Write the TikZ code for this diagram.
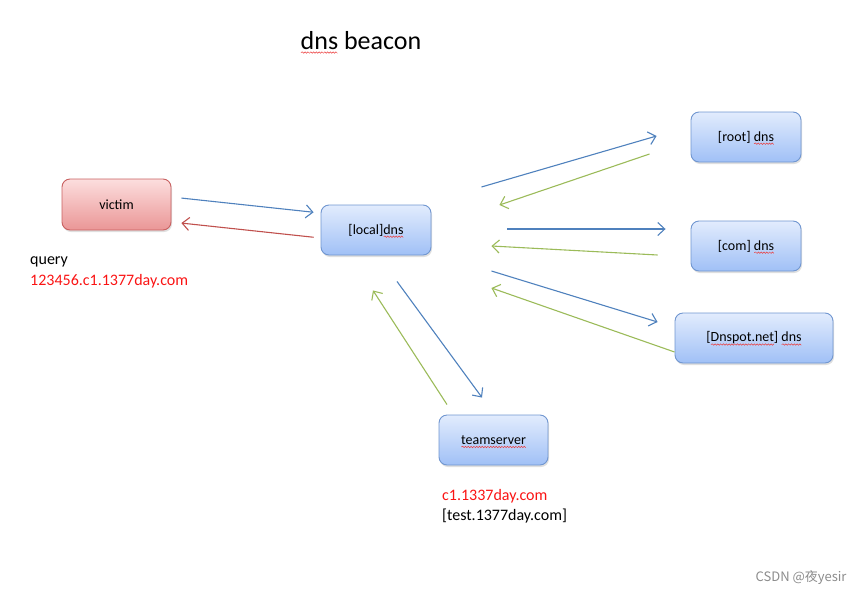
\documentclass[tikz,border=0pt]{standalone}
\usepackage{fontspec}
\setmainfont{Carlito}
\newfontfamily\cjkfont{Noto Sans CJK SC}
\usepackage{tikz}
\usetikzlibrary{arrows.meta}
\usetikzlibrary{shadows}

% red wavy underline of the spell checker (basic layer, sharp corners)
\newsavebox{\spellbox}
\newcount\spellk
\newcommand{\spell}[1]{\sbox{\spellbox}{#1}%
    \pgfmathtruncatemacro{\spelln}{\the\wd\spellbox/1.4pt}%
    \leavevmode\rlap{\smash{\begin{pgfpicture}\pgfsetbaseline{0pt}%
        \pgfsetcornersarced{\pgfpointorigin}%
        \pgfsetstrokecolor{spellred}\pgfsetlinewidth{0.5pt}%
        \pgfpathmoveto{\pgfpoint{0pt}{-2.6pt}}%
        \spellk=0
        \loop\advance\spellk by 1
            \pgfpathlineto{\pgfpoint{\the\spellk*1.4pt}{\ifodd\spellk -1.9pt\else -3.3pt\fi}}%
        \ifnum\spellk<\spelln\repeat
        \pgfusepath{stroke}%
    \end{pgfpicture}}}#1}

\begin{document}
\begin{tikzpicture}[x=1pt,y=-1pt,
        box/.style={draw=boxblue, line width=0.9pt, rounded corners=8pt,
            minimum width=110pt, minimum height=50pt,
            top color=boxtop, bottom color=boxbottom,
            font=\fontsize{14}{16}\selectfont,
            drop shadow={opacity=0.25, shadow xshift=1pt, shadow yshift=-2pt}},
        redbox/.style={box, draw=victimline, top color=victimtop, bottom color=victimbottom},
        ask/.style={draw=askblue, line width=1.1pt, -{Straight Barb[length=7pt,width=13pt]}},
        answer/.style={draw=answergreen, line width=1.1pt, -{Straight Barb[length=7pt,width=13pt]}},
        back/.style={draw=backred, line width=1.1pt, -{Straight Barb[length=7pt,width=13pt]}},
        label/.style={font=\fontsize{16}{19}\selectfont, anchor=west, inner sep=0pt}]
        \definecolor{boxblue}{RGB}{112,150,208}
        \definecolor{boxtop}{RGB}{226,236,253}
        \definecolor{boxbottom}{RGB}{160,192,246}
        \definecolor{victimline}{RGB}{200,96,96}
        \definecolor{victimtop}{RGB}{252,222,222}
        \definecolor{victimbottom}{RGB}{234,150,150}
        \definecolor{askblue}{RGB}{79,129,189}
        \definecolor{answergreen}{RGB}{155,187,89}
        \definecolor{backred}{RGB}{192,80,77}
        \definecolor{spellred}{RGB}{235,60,60}
        \definecolor{querred}{RGB}{250,20,20}

        \useasboundingbox (0,0) rectangle (865,595);

        \node[font=\fontsize{26}{30}\selectfont] (title) at (361,41) {\spell{dns} beacon};

        \node[redbox, minimum width=109pt, minimum height=51pt] (victim) at (116.5,204.5) {victim};
        \node[box] (local) at (376,230) {[local]\spell{dns}};
        \node[box] (root) at (746,137) {[root] \spell{dns}};
        \node[box] (com) at (746,246) {[com] \spell{dns}};
        \node[box, minimum width=158pt] (dnspot) at (754,338) {[\spell{Dnspot.net}] \spell{dns}};
        \node[box, minimum width=109pt] (team) at (493.5,440) {\spell{teamserver}};

        \node[label] (query) at (30,262) {query};
        \node[label, text=querred] (qname) at (30,281) {123456.c1.1377day.com};
        \node[label, text=querred] (domain) at (442,496) {c1.1337day.com};
        \node[label] (test) at (442,516) {[test.1377day.com]};

        \node[anchor=east, text=black!45, font=\cjkfont\fontsize{13}{15}\selectfont] (mark) at (850,578) {CSDN @夜yesir};

        % victim <-> local dns
        \draw[ask, shorten <=10pt, shorten >=7pt] ([yshift=7.5pt]victim.east) -- ([yshift=17pt]local.west);
        \draw[back, shorten <=7pt, shorten >=10pt] ([yshift=-8pt]local.west) -- ([yshift=-17.5pt]victim.east);

        % local dns <-> root, com, Dnspot
        \draw[ask] ([xshift=50pt,yshift=43pt]local.east) -- ([xshift=-34pt,yshift=1pt]root.west);
        \draw[answer] ([xshift=-41pt,yshift=-17pt]root.west) -- ([xshift=68pt,yshift=25pt]local.east);
        \draw[ask] ([xshift=76pt,yshift=1pt]local.east) -- ([xshift=-25pt,yshift=17pt]com.west);
        \draw[answer] ([xshift=-33pt,yshift=-9pt]com.west) -- ([xshift=60pt,yshift=-16pt]local.east);
        \draw[ask] ([xshift=60pt,yshift=-41pt]local.east) -- ([xshift=-17pt,yshift=16pt]dnspot.west);
        \draw[answer] ([yshift=-14pt]dnspot.west) -- ([xshift=60pt,yshift=-58pt]local.east);

        % local dns <-> teamserver
        \draw[ask] ([xshift=21pt,yshift=-26pt]local.south) -- ([xshift=-11.5pt,yshift=17pt]team.north);
        \draw[answer] ([xshift=-46.5pt,yshift=10pt]team.north) -- ([xshift=-3pt,yshift=-35pt]local.south);
\end{tikzpicture}
\end{document}
